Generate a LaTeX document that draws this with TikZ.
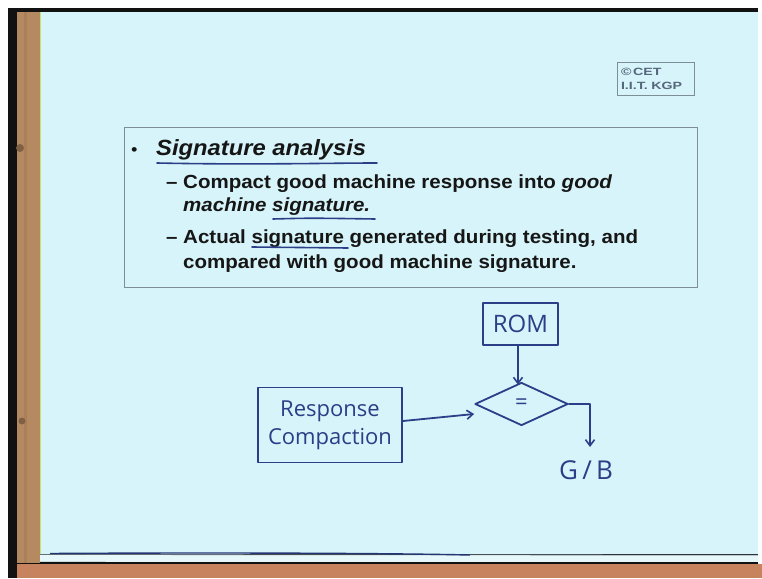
\documentclass[tikz,border=0pt]{standalone}
\usepackage{fontspec}
\setmainfont{Liberation Sans}
\newfontfamily\slidefont[FakeStretch=1.08]{Liberation Sans}
\newfontfamily\logofont[FakeStretch=1.35]{Liberation Sans}
\newfontfamily\handfont{Open Sans}
\usetikzlibrary{arrows.meta,shapes.geometric}

\definecolor{slidebg}{HTML}{D6F4F9}
\definecolor{frameblack}{HTML}{121212}
\definecolor{wood}{HTML}{B68A60}
\definecolor{woodorange}{HTML}{C7835E}
\definecolor{ink}{HTML}{2B3E88}
\definecolor{textcol}{HTML}{161616}
\definecolor{boxline}{HTML}{7E8E96}
\definecolor{logocol}{HTML}{56667C}

\tikzset{
  slidetext/.style={anchor=base west, inner sep=0pt, text=textcol},
  body/.style={slidetext, font=\slidefont\bfseries\fontsize{19}{22}\selectfont},
  handline/.style={draw=ink, line width=1.8pt, line cap=round, line join=round},
  handtext/.style={text=ink, font=\handfont\fontsize{22}{30}\selectfont, inner sep=0pt},
  handbox/.style={handline, rectangle, handtext},
  arr/.style={handline, -{Straight Barb[length=6pt,width=9pt,line width=1.6pt]}},
}

\begin{document}
\begin{tikzpicture}[x=1pt,y=-1pt]
\useasboundingbox (0,0) rectangle (762,578);

% surroundings: frame, wooden strips, slide surface
\fill[white] (0,0) rectangle (762,578);
\fill[frameblack] (8,8) rectangle (758,578);
\fill[wood] (17,12) rectangle (40,563);
\fill[wood!80!black, opacity=0.35] (24,12) rectangle (27,563);
\fill[wood!70!black] (20,148) circle (4);
\fill[wood!70!black] (22,421) circle (3.5);
\fill[slidebg] (40,12) rectangle (758,554);
\draw[yellow!60!green!60!white, line width=1pt] (40.5,12) -- (40.5,554);
\fill[slidebg!60!white] (40,555) rectangle (758,562);
\draw[boxline!80!black, line width=0.8pt] (40,554.5) -- (758,555);
\draw[ink!85!black, line width=1.4pt] (50,553.5) .. controls (200,552.5) and (380,553) .. (470,555);
\draw[frameblack, line width=1.2pt] (40,562.5) -- (758,563.5);
\fill[woodorange] (17,564) rectangle (762,578);
\fill[white!85!slidebg] (758,12) rectangle (762,563);

% copyright tag
\node[draw=boxline, line width=0.8pt, rectangle, text width=69, minimum height=33,
      align=left, inner sep=4pt, text=logocol,
      font=\logofont\bfseries\fontsize{10.5}{14}\selectfont] (logo) at (655.5,78.5)
  {\textcopyright\,CET\\I.I.T.\ KGP};

% text panel
\node[draw=boxline, line width=0.8pt, rectangle, minimum width=573, minimum height=160,
      inner sep=0pt] (panel) at (410.5,207) {};

\node[slidetext, font=\slidefont\fontsize{17}{17}\selectfont] (bullet) at (131,155) {\textbullet};
\node[slidetext, font=\slidefont\bfseries\itshape\fontsize{22}{26}\selectfont] (head) at (156,155) {Signature analysis};

\node[body] (dashA) at (166,188) {–};
\node[body] (lineA) at (183,188) {Compact good machine response into \textit{good}};
\node[body] (lineB) at (183,211) {\textit{machine signature.}};
\node[body] (dashB) at (166,243) {–};
\node[body] (lineC) at (183,243) {Actual signature generated during testing, and};
\node[body] (lineD) at (183,268) {compared with good machine signature.};

% pen underlines
\draw[handline, line width=1.6pt] (157,163) .. controls (250,165) and (330,163) .. (377,163);
\draw[handline, line width=1.6pt] (273,219) .. controls (310,218) .. (375,219);
\draw[handline, line width=1.6pt] (252,247) .. controls (300,248) .. (348,248);

% hand-drawn comparison diagram
\node[handbox, minimum width=75, minimum height=42, font=\handfont\fontsize{24}{30}\selectfont] (rom) at (520.5,324) {ROM};
\node[handline, diamond, aspect=2.16, minimum width=93, minimum height=43, inner sep=0pt,
      handtext] (cmp) at (521.5,404) {=};
\node[handbox, minimum width=144, minimum height=75, align=center] (rc) at (330,425)
  {Response\\[-2pt]Compaction};
\node[handtext, font=\handfont\fontsize{26}{30}\selectfont] (gb) at (586,470) {G\,/\,B};
\coordinate (outend) at (590,447);

\draw[arr] ([xshift=-2.5pt]rom.south) -- ([xshift=-3.5pt,yshift=-3pt]cmp.north);
\draw[arr] ([yshift=4pt]rc.east) -- ([yshift=-10pt]cmp.west);
\draw[arr] (cmp.east) -| (outend);
\end{tikzpicture}
\end{document}
